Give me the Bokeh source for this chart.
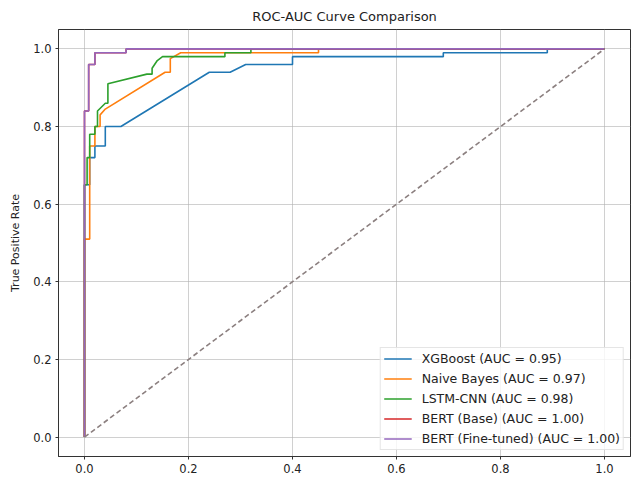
from bokeh.plotting import figure
from bokeh.models import Range1d, FixedTicker, Legend, LegendItem
from bokeh.embed import file_html
from bokeh.resources import INLINE

# ---- data ----
xgb_fpr = [0.0, 0.0, 0.01, 0.01, 0.02, 0.02, 0.04, 0.04, 0.07, 0.24, 0.28, 0.31, 0.40, 0.40, 0.69, 0.69, 0.89, 0.89, 1.0]
xgb_tpr = [0.0, 0.65, 0.65, 0.72, 0.72, 0.75, 0.75, 0.80, 0.80, 0.94, 0.94, 0.96, 0.96, 0.98, 0.98, 0.99, 0.99, 1.0, 1.0]

nb_fpr = [0.0, 0.0, 0.01, 0.01, 0.02, 0.02, 0.03, 0.03, 0.04, 0.155, 0.165, 0.165, 0.185, 0.45, 0.45, 1.0]
nb_tpr = [0.0, 0.51, 0.51, 0.75, 0.75, 0.80, 0.80, 0.83, 0.845, 0.94, 0.94, 0.975, 0.99, 0.99, 1.0, 1.0]

lstm_fpr = [0.0, 0.0, 0.005, 0.005, 0.01, 0.01, 0.02, 0.02, 0.025, 0.025, 0.04, 0.045, 0.045, 0.12, 0.13, 0.13, 0.14, 0.15, 0.27, 0.27, 0.32, 0.32, 1.0]
lstm_tpr = [0.0, 0.65, 0.65, 0.72, 0.72, 0.78, 0.78, 0.80, 0.80, 0.84, 0.86, 0.86, 0.91, 0.935, 0.935, 0.95, 0.97, 0.98, 0.98, 0.99, 0.99, 1.0, 1.0]

bert_fpr = [0.0, 0.0, 0.008, 0.008, 0.02, 0.02, 0.08, 0.08, 1.0]
bert_tpr = [0.0, 0.84, 0.84, 0.96, 0.96, 0.99, 0.99, 1.0, 1.0]

bertft_fpr = [0.0, 0.0, 0.008, 0.008, 0.02, 0.02, 0.08, 0.08, 1.0]
bertft_tpr = [0.0, 0.84, 0.84, 0.96, 0.96, 0.99, 0.99, 1.0, 1.0]

diag = [0.0, 1.0]

title_text = "ROC-AUC Curve Comparison"
labels = ["XGBoost (AUC = 0.95)", "Naive Bayes (AUC = 0.97)", "LSTM-CNN (AUC = 0.98)",
          "BERT (Base) (AUC = 1.00)", "BERT (Fine-tuned) (AUC = 1.00)"]
colors = ["#1f77b4", "#ff7f0e", "#2ca02c", "#d62728", "#9467bd"]
ticks = [0.0, 0.2, 0.4, 0.6, 0.8, 1.0]
tick_labels = ["0.0", "0.2", "0.4", "0.6", "0.8", "1.0"]

FONT = "DejaVu Sans"

p = figure(width=631, height=480, output_backend="svg", toolbar_location=None,
           x_range=Range1d(-0.05, 1.05), y_range=Range1d(-0.05, 1.05),
           min_border_left=58, min_border_right=1, min_border_top=29, min_border_bottom=24,
           title=title_text)

p.title.text_font = FONT
p.title.text_font_size = "13px"
p.title.text_font_style = "normal"
p.title.align = "center"
p.title.text_color = "#222222"
p.title.standoff = 12

series = [(xgb_fpr, xgb_tpr), (nb_fpr, nb_tpr), (lstm_fpr, lstm_tpr),
          (bert_fpr, bert_tpr), (bertft_fpr, bertft_tpr)]
items = []
for (fx, fy), lab, col in zip(series, labels, colors):
    r = p.line(fx, fy, line_color=col, line_width=1.6)
    items.append(LegendItem(label=lab, renderers=[r]))

p.line(diag, diag, line_color="#8c8080", line_width=1.6, line_dash="5 3")

for ax in (p.xaxis[0], p.yaxis[0]):
    ax.ticker = FixedTicker(ticks=ticks)
    ax.major_label_overrides = {t: s for t, s in zip(ticks, tick_labels)}
    ax.minor_tick_line_color = None
    ax.major_tick_in = 0
    ax.major_tick_out = 3
    ax.major_label_standoff = 4
    ax.major_label_text_font = FONT
    ax.major_label_text_font_size = "11.5px"
    ax.major_label_text_color = "#222222"
    ax.axis_line_color = "#333333"
    ax.major_tick_line_color = "#333333"

p.yaxis[0].axis_label = "True Positive Rate"
p.yaxis[0].axis_label_text_font = FONT
p.yaxis[0].axis_label_text_font_size = "11px"
p.yaxis[0].axis_label_text_font_style = "normal"
p.yaxis[0].axis_label_text_color = "#222222"
p.yaxis[0].axis_label_standoff = 8

p.outline_line_color = "#333333"
p.outline_line_width = 1
p.grid.grid_line_color = "#b0b0b0"
p.grid.grid_line_alpha = 0.6
p.xgrid.ticker = FixedTicker(ticks=ticks)
p.ygrid.ticker = FixedTicker(ticks=ticks)

legend = Legend(items=items, location="bottom_right")
legend.margin = 6
legend.padding = 3
legend.spacing = 5
legend.label_height = 15
legend.glyph_height = 15
legend.glyph_width = 28
legend.label_standoff = 10
legend.label_text_font = FONT
legend.label_text_font_size = "12.5px"
legend.label_text_color = "#222222"
legend.border_line_color = "#cccccc"
legend.background_fill_alpha = 0.8
p.add_layout(legend)

open("out.html", "w").write(file_html(p, INLINE))
